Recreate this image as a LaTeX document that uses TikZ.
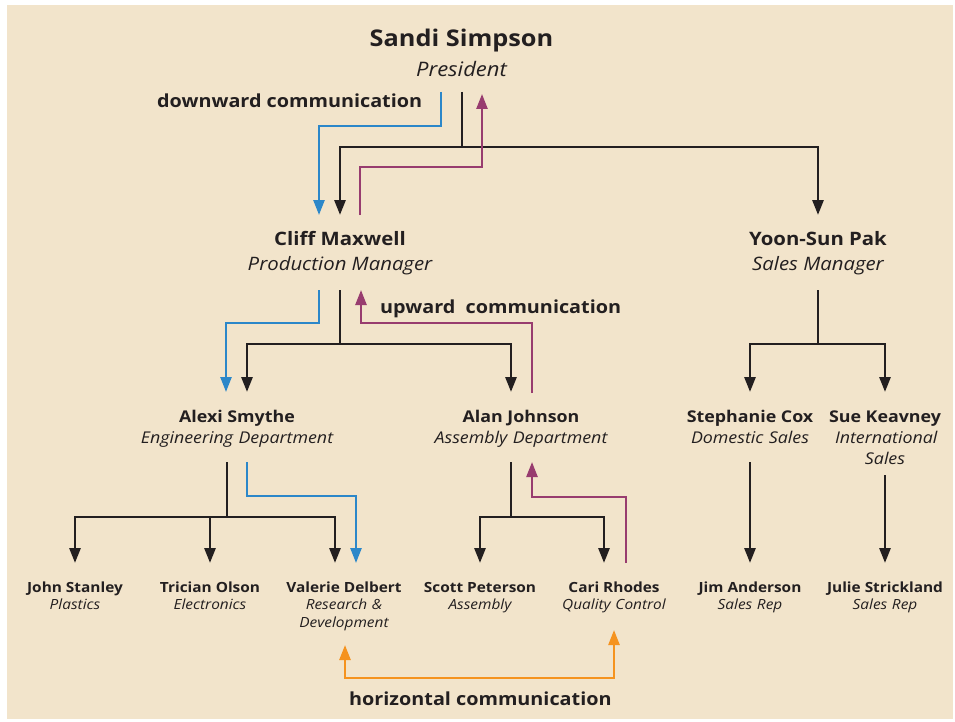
\documentclass[tikz,border=0pt]{standalone}
\usepackage{fontspec}
\setmainfont{Open Sans}[FakeStretch=1.1]
\usetikzlibrary{arrows.meta,calc}
\definecolor{paper}{HTML}{F2E4CB}
\definecolor{ink}{HTML}{231F20}
\definecolor{downblue}{HTML}{2C87C9}
\definecolor{upplum}{HTML}{983C6F}
\definecolor{sideorange}{HTML}{F5931F}
\tikzset{
  tip/.style={-{Triangle[length=15pt,width=11pt]}},
  tree/.style={draw=ink,line width=2.8pt,line join=miter,tip},
  downflow/.style={draw=downblue,line width=2.4pt,line join=miter,tip},
  upflow/.style={draw=upplum,line width=2.4pt,line join=miter,tip},
  sideflow/.style={draw=sideorange,line width=2.4pt,line join=miter,
    {Triangle[length=15pt,width=11pt]}-{Triangle[length=15pt,width=11pt]}},
  txt/.style={inner sep=0pt,text=ink,anchor=base},
  topname/.style={txt,font=\fontsize{23}{27}\selectfont\bfseries},
  toprole/.style={txt,font=\fontsize{20}{24}\selectfont\itshape},
  midname/.style={txt,font=\fontsize{18.5}{22}\selectfont\bfseries},
  midrole/.style={txt,font=\fontsize{18.5}{22}\selectfont\itshape},
  deptname/.style={txt,font=\fontsize{16.2}{21}\selectfont\bfseries},
  deptrole/.style={txt,font=\fontsize{16.2}{21}\selectfont\itshape,text width=230pt,align=center},
  staffname/.style={txt,font=\fontsize{14}{18}\selectfont\bfseries},
  staffrole/.style={txt,font=\fontsize{14}{18}\selectfont\itshape,text width=130pt,align=center},
  flowlabel/.style={inner sep=0pt,text=ink,anchor=base west,font=\fontsize{18}{23}\selectfont\bfseries},
}
\begin{document}
\begin{tikzpicture}[x=1pt,y=-1pt]
\useasboundingbox (0,0) rectangle (955,722);
\fill[paper] (7,5) rectangle (953,719);

% people
\node[topname] (sandi) at (461.5,47) {Sandi Simpson};
\node[toprole] (pres) at (461.5,77) {President};

\node[midname] (cliff) at (340,245) {Cliff Maxwell};
\node[midrole] (prod) at (340,270) {Production Manager};
\node[midname] (yoon) at (818,245) {Yoon-Sun Pak};
\node[midrole] (sm) at (818,270) {Sales Manager};

\node[deptname] (alexi) at (237,422) {Alexi Smythe};
\node[deptrole] (eng) at (237,443) {Engineering Department};
\node[deptname] (alan) at (521,422) {Alan Johnson};
\node[deptrole] (asm) at (521,443) {Assembly Department};
\node[deptname] (steph) at (750,422) {Stephanie Cox};
\node[deptrole] (dom) at (750,443) {Domestic Sales};
\node[deptname] (sue) at (885,422) {Sue Keavney};
\node[deptrole,text width=100pt] (intl) at (885,443) {International\\Sales};

\node[staffname] (john) at (75,592) {John Stanley};
\node[staffrole] (plas) at (75,609) {Plastics};
\node[staffname] (trician) at (210,592) {Trician Olson};
\node[staffrole] (elec) at (210,609) {Electronics};
\node[staffname] (valerie) at (344,592) {Valerie Delbert};
\node[staffrole] (rd) at (344,609) {Research \&\\Development};
\node[staffname] (scott) at (480,592) {Scott Peterson};
\node[staffrole] (assy) at (480,609) {Assembly};
\node[staffname] (cari) at (614,592) {Cari Rhodes};
\node[staffrole] (qc) at (614,609) {Quality Control};
\node[staffname] (jim) at (750,592) {Jim Anderson};
\node[staffrole] (jimrole) at (750,609) {Sales Rep};
\node[staffname] (julie) at (885,592) {Julie Strickland};
\node[staffrole] (julierole) at (885,609) {Sales Rep};

% flow labels
\node[flowlabel] (down) at (157,108) {downward communication};
\node[flowlabel] (up) at (380,313) {upward\ \ communication};
\node[flowlabel] (side) at (349,705) {horizontal communication};

% reporting lines: president
\draw[tree] ($(pres.base)+(0.5,15)$) |- ($(cliff.base)+(0,-98)$) -- ($(cliff.base)+(0,-30)$);
\draw[tree] ($(pres.base)+(0.5,70)$) -| ($(yoon.base)+(0,-30)$);
\draw[downflow] ($(pres.base)+(-20.5,15)$) |- ($(cliff.base)+(-21,-119)$) -- ($(cliff.base)+(-21,-30)$);
\draw[upflow] ($(cliff.base)+(20,-30)$) |- ($(pres.base)+(20.5,90)$) -- ($(pres.base)+(20.5,17)$);

% reporting lines: production manager
\draw[tree] ($(prod.base)+(0,20)$) |- ($(alexi.base)+(10,-78)$) -- ($(alexi.base)+(10,-30)$);
\draw[tree] ($(prod.base)+(0,74)$) -| ($(alan.base)+(-10,-30)$);
\draw[downflow] ($(prod.base)+(-21,20)$) |- ($(alexi.base)+(-11,-99)$) -- ($(alexi.base)+(-11,-30)$);
\draw[upflow] ($(alan.base)+(11,-29)$) |- ($(prod.base)+(21,53)$) -- ($(prod.base)+(21,20)$);

% reporting lines: sales manager
\draw[tree] ($(sm.base)+(0,20)$) |- ($(steph.base)+(0,-78)$) -- ($(steph.base)+(0,-30)$);
\draw[tree] ($(sm.base)+(0,74)$) -| ($(sue.base)+(0,-30)$);

% reporting lines: engineering
\draw[tree] ($(eng.base)+(-10,19)$) |- ($(john.base)+(0,-75)$) -- ($(john.base)+(0,-29)$);
\draw[tree] ($(eng.base)+(-10,74)$) -| ($(valerie.base)+(-9,-29)$);
\draw[tree] ($(trician.base)+(0,-75)$) -- ($(trician.base)+(0,-29)$);
\draw[downflow] ($(eng.base)+(10,19)$) |- ($(valerie.base)+(12,-96)$) -- ($(valerie.base)+(12,-29)$);

% reporting lines: assembly
\draw[tree] ($(asm.base)+(-10,19)$) |- ($(scott.base)+(0,-75)$) -- ($(scott.base)+(0,-29)$);
\draw[tree] ($(asm.base)+(-10,74)$) -| ($(cari.base)+(-10,-29)$);
\draw[upflow] ($(cari.base)+(12,-29)$) |- ($(asm.base)+(11,54)$) -- ($(asm.base)+(11,19)$);

% reporting lines: sales
\draw[tree] ($(dom.base)+(0,19)$) -- ($(jim.base)+(0,-29)$);
\draw[tree] ($(intl.base)+(0,32)$) -- ($(julie.base)+(0,-29)$);

% horizontal exchange
\draw[sideflow] ($(rd.base)+(1,36)$) |- ($(qc.base)+(0,69)$) -- ($(qc.base)+(0,21)$);
\end{tikzpicture}
\end{document}
